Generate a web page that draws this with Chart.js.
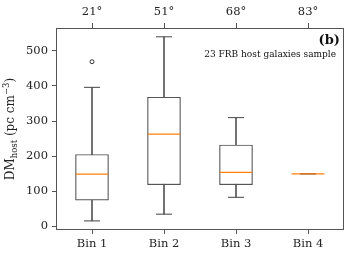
<!DOCTYPE html>
<html>
<head>
<meta charset="utf-8">
<script src="https://cdn.jsdelivr.net/npm/chart.js@4.4.1/dist/chart.umd.min.js"></script>
<style>
  html, body { margin: 0; padding: 0; background: #fff; }
  #wrap { width: 349px; height: 258px; }
</style>
</head>
<body>
<div id="wrap"><canvas id="chart" width="349" height="258"></canvas></div>
<script>
const binLabels = ["Bin 1", "Bin 2", "Bin 3", "Bin 4"];
const angleLabels = ["21°", "51°", "68°", "83°"];
const binPos = [1, 2, 3, 4];
const whiskerLow = [16, 35, 83, 150];
const q1 = [75, 119, 119, 150];
const median = [149, 263, 154, 150];
const q3 = [205, 368, 232, 150];
const whiskerHigh = [396, 540, 310, 150];
const outlierBin = [1];
const outlierVal = [469];
const yTicks = [0, 100, 200, 300, 400, 500];

const serif = "DejaVu Serif";
const ink = "#222";
const lineGray = "#555";

// box = floating bar from q1 to q3, whisker = thin bar from low to high
const boxData = binPos.map((x, i) => ({ x: x, y: [q1[i], q3[i]] }));
const whiskerData = binPos.map((x, i) => ({ x: x, y: [whiskerLow[i], whiskerHigh[i]] }));
const capData = [];
binPos.forEach((x, i) => {
  capData.push({ x: x, y: whiskerLow[i] });
  capData.push({ x: x, y: whiskerHigh[i] });
});
const medianData = binPos.map((x, i) => ({ x: x, y: median[i] }));
const outlierData = outlierBin.map((x, i) => ({ x: x, y: outlierVal[i] }));

const frameAndText = {
  id: "frameAndText",
  afterDraw(chart) {
    const ctx = chart.ctx;
    const a = chart.chartArea;
    ctx.save();
    ctx.strokeStyle = lineGray;
    ctx.lineWidth = 1;
    ctx.strokeRect(a.left + 0.5, a.top + 0.5, a.right - a.left - 1, a.bottom - a.top - 1);

    // panel tag and note
    ctx.fillStyle = "#111";
    ctx.textAlign = "right";
    ctx.textBaseline = "alphabetic";
    ctx.font = "bold 13px '" + serif + "'";
    ctx.fillText("(b)", a.right - 4, a.top + 16);
    ctx.font = "9px '" + serif + "'";
    ctx.fillText("23 FRB host galaxies sample", a.right - 8, a.top + 29);

    // y title with sub/superscript
    const big = "12px '" + serif + "'";
    const small = "8.5px '" + serif + "'";
    const parts = [
      { t: "DM", f: big, dy: 0 },
      { t: "host", f: small, dy: 2.5 },
      { t: " (pc cm", f: big, dy: 0 },
      { t: "\u22123", f: small, dy: -5 },
      { t: ")", f: big, dy: 0 }
    ];
    let total = 0;
    parts.forEach(p => { ctx.font = p.f; p.w = ctx.measureText(p.t).width; total += p.w; });
    ctx.translate(14, (a.top + a.bottom) / 2);
    ctx.rotate(-Math.PI / 2);
    ctx.textAlign = "left";
    ctx.fillStyle = ink;
    let x = -total / 2;
    parts.forEach(p => { ctx.font = p.f; ctx.fillText(p.t, x, p.dy); x += p.w; });
    ctx.restore();
  }
};

function fixX(s) {
  s.height = 28;
  s.paddingLeft = 0;
  s.paddingRight = 0;
}

new Chart(document.getElementById("chart").getContext("2d"), {
  type: "bar",
  data: {
    datasets: [
      {
        type: "bar",
        data: whiskerData,
        backgroundColor: lineGray,
        borderWidth: 0,
        barThickness: 1,
        grouped: false,
        order: 4
      },
      {
        type: "bar",
        data: boxData,
        backgroundColor: "#fff",
        borderColor: lineGray,
        borderWidth: 1.2,
        borderSkipped: false,
        barThickness: 33,
        grouped: false,
        order: 3
      },
      {
        type: "scatter",
        data: capData,
        pointStyle: "line",
        radius: 8,
        borderColor: lineGray,
        borderWidth: 1.1,
        order: 2
      },
      {
        type: "scatter",
        data: medianData,
        pointStyle: "line",
        radius: 16.5,
        borderColor: "#ff7f0e",
        borderWidth: 1.2,
        order: 1
      },
      {
        type: "scatter",
        data: outlierData,
        pointStyle: "circle",
        radius: 2,
        backgroundColor: "#fff",
        borderColor: "#333",
        borderWidth: 1,
        order: 0
      }
    ]
  },
  options: {
    responsive: false,
    animation: false,
    layout: { autoPadding: false, padding: { right: 5 } },
    plugins: { legend: { display: false }, tooltip: { enabled: false } },
    scales: {
      x: {
        type: "linear",
        position: "bottom",
        min: 0.5,
        max: 4.5,
        offset: false,
        afterBuildTicks: s => { s.ticks = binPos.map(v => ({ value: v })); },
        afterFit: fixX,
        grid: { offset: false, drawOnChartArea: false, drawTicks: true, tickLength: 4, color: lineGray },
        border: { display: false },
        ticks: {
          padding: 3,
          color: ink,
          font: { family: serif, size: 11.5 },
          maxRotation: 0,
          callback: (v, i) => binLabels[i]
        }
      },
      x2: {
        type: "linear",
        position: "top",
        min: 0.5,
        max: 4.5,
        offset: false,
        afterBuildTicks: s => { s.ticks = binPos.map(v => ({ value: v })); },
        afterFit: fixX,
        grid: { offset: false, drawOnChartArea: false, drawTicks: true, tickLength: 5, color: lineGray },
        border: { display: false },
        ticks: {
          padding: 4,
          color: ink,
          font: { family: serif, size: 11.5 },
          maxRotation: 0,
          callback: (v, i) => angleLabels[i]
        }
      },
      y: {
        type: "linear",
        min: -10,
        max: 565,
        afterBuildTicks: s => { s.ticks = yTicks.map(v => ({ value: v })); },
        afterFit: s => { s.width = 56; s.paddingTop = 0; s.paddingBottom = 0; },
        grid: { drawOnChartArea: false, drawTicks: true, tickLength: 4, color: lineGray },
        border: { display: false },
        ticks: {
          padding: 4,
          color: ink,
          font: { family: serif, size: 11.5 }
        }
      }
    }
  },
  plugins: [frameAndText]
});
</script>
</body>
</html>
